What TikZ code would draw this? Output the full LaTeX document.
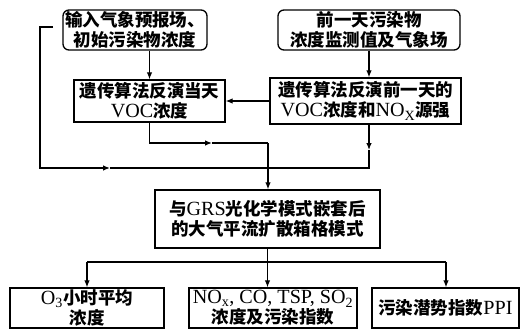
\documentclass[tikz,border=0pt]{standalone}
\usepackage{fontspec}
\setmainfont{Liberation Serif}[Scale=1.15]
\newfontfamily\cjk{Noto Sans CJK SC}
\usetikzlibrary{arrows.meta}
\tikzset{
  box/.style={draw, line width=1.3pt, inner sep=0pt, align=center,
    font=\fontsize{17.5}{20}\selectfont},
  rbox/.style={box, rounded corners=6pt},
  ln/.style={line width=1.2pt},
  arr/.style={ln, -{Latex[length=7pt,width=5.5pt]}}
}
\begin{document}
\begin{tikzpicture}[x=1pt,y=-1pt]
\useasboundingbox (0,0) rectangle (528,329);
\fill[white] (0,0) rectangle (528,329);
% nodes
\node[rbox, minimum width=144pt, minimum height=40pt] (tl) at (135,30)
  {\cjk\bfseries 输入气象预报场、\\\cjk\bfseries 初始污染物浓度};
\node[rbox, minimum width=182pt, minimum height=40pt] (tr) at (369,30)
  {\cjk\bfseries 前一天污染物\\\cjk\bfseries 浓度监测值及气象场};
\node[box, minimum width=151pt, minimum height=42pt] (ml) at (149.5,101)
  {{\cjk\bfseries 遗传算法反演当天}\\VOC{\cjk\bfseries 浓度}};
\node[box, minimum width=191pt, minimum height=46pt] (mr) at (365.5,101)
  {{\cjk\bfseries 遗传算法反演前一天的}\\VOC{\cjk\bfseries 浓度和}NO\textsubscript{X}{\cjk\bfseries 源强}};
\node[box, minimum width=225pt, minimum height=58pt] (c) at (267.5,219)
  {{\cjk\bfseries 与}GRS{\cjk\bfseries 光化学模式嵌套后}\\{\cjk\bfseries 的大气平流扩散箱格模式}};
\node[box, minimum width=154pt, minimum height=40pt] (b1) at (87,308)
  {O\textsubscript{3}{\cjk\bfseries 小时平均}\\{\cjk\bfseries 浓度}};
\node[box, minimum width=168pt, minimum height=40pt] (b2) at (273,308)
  {NO\textsubscript{x}, CO, TSP, SO\textsubscript{2}\\{\cjk\bfseries 浓度及污染指数}};
\node[box, minimum width=147pt, minimum height=40pt] (b3) at (445.5,308)
  {{\cjk\bfseries 污染潜势指数}PPI};
% junction coordinates
\coordinate (fbs) at (53,27);
\coordinate (fbc1) at (40,27);
\coordinate (fbc2) at (40,168);
\coordinate (fba) at (110,168);
\coordinate (j1) at (268,143);
\coordinate (j1a) at (212,143);
\coordinate (j2) at (268,168);
\coordinate (j3) at (369,168);
\coordinate (j3a) at (369,150);
\coordinate (bl) at (87,262);
\coordinate (br) at (446,262);
% connectors
\draw[arr] (ml.north |- tl.south) -- (ml.north);
\draw[arr] (tr.south) -- (tr.south |- mr.north);
\draw[arr] (mr.west) -- (ml.east);
\draw[arr] (ml.south) -- (ml.south |- j1a) -- (j1a);
\draw[ln] (j1a) -- (j1);
\draw[arr] (j1) -- (j1 |- c.north);
\draw[arr] (fbs) -- (fbc1) -- (fbc2) -- (fba);
\draw[ln] (fba) -- (j2);
\draw[arr] (tr.south |- mr.south) -- (j3a);
\draw[ln] (j3a) -- (j3) -- (j2);
\draw[ln] (c.south) -- (c.south |- bl);
\draw[ln] (bl) -- (br);
\draw[arr] (bl) -- (bl |- b1.north);
\draw[arr] (c.south |- bl) -- (c.south |- b2.north);
\draw[arr] (br) -- (br |- b3.north);
\end{tikzpicture}
\end{document}
